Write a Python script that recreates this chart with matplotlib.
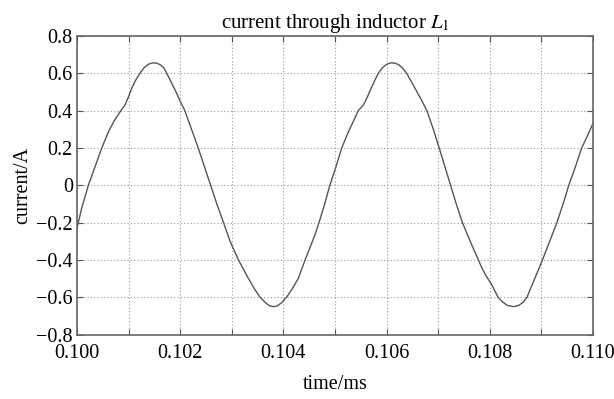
import matplotlib
matplotlib.use('Agg')
import matplotlib.pyplot as plt

plt.rcParams['font.family'] = ['Liberation Serif', 'DejaVu Serif']
plt.rcParams['mathtext.fontset'] = 'stix'

# points (time in ms, current in A)
time_ms = [0.10000, 0.10009, 0.10022, 0.10035, 0.10048, 0.10061, 0.10072, 0.10085,
           0.10093, 0.10100, 0.10106, 0.10114, 0.10122, 0.10130, 0.10138, 0.10146,
           0.10154, 0.10162, 0.10168, 0.10174, 0.10183, 0.10192, 0.10200, 0.10209,
           0.10222, 0.10235, 0.10247, 0.10259, 0.10271, 0.10284, 0.10297, 0.10313,
           0.10332, 0.10345, 0.10355, 0.10365, 0.10373, 0.10380, 0.10388, 0.10396,
           0.10406, 0.10417, 0.10429, 0.10442, 0.10452, 0.10461, 0.10469, 0.10480,
           0.10490, 0.10502, 0.10513, 0.10526, 0.10536, 0.10545, 0.10555, 0.10563,
           0.10570, 0.10577, 0.10584, 0.10592, 0.10600, 0.10608, 0.10616, 0.10624,
           0.10631, 0.10639, 0.10648, 0.10658, 0.10668, 0.10678, 0.10690, 0.10702,
           0.10713, 0.10724, 0.10735, 0.10747, 0.10762, 0.10778, 0.10785, 0.10794,
           0.10804, 0.10816, 0.10825, 0.10834, 0.10846, 0.10856, 0.10864, 0.10872,
           0.10887, 0.10902, 0.10916, 0.10930, 0.10942, 0.10953, 0.10966, 0.10978,
           0.10990, 0.11000]
current_A = [-0.230, -0.123, 0.000, 0.100, 0.200, 0.287, 0.345, 0.400,
             0.430, 0.475, 0.520, 0.565, 0.600, 0.630, 0.648, 0.656,
             0.655, 0.645, 0.630, 0.600, 0.550, 0.500, 0.450, 0.400,
             0.300, 0.200, 0.100, 0.000, -0.100, -0.200, -0.302, -0.400,
             -0.498, -0.560, -0.600, -0.628, -0.645, -0.650, -0.646, -0.630,
             -0.600, -0.555, -0.498, -0.400, -0.330, -0.266, -0.200, -0.100,
             0.000, 0.100, 0.200, 0.287, 0.345, 0.400, 0.430, 0.475,
             0.520, 0.562, 0.600, 0.630, 0.648, 0.656, 0.655, 0.645,
             0.628, 0.600, 0.555, 0.505, 0.455, 0.400, 0.305, 0.200,
             0.100, 0.000, -0.100, -0.200, -0.300, -0.400, -0.445, -0.490,
             -0.534, -0.600, -0.625, -0.643, -0.650, -0.643, -0.628, -0.600,
             -0.500, -0.400, -0.300, -0.200, -0.100, 0.000, 0.100, 0.200,
             0.270, 0.332]

x_ticks = [0.100, 0.101, 0.102, 0.103, 0.104, 0.105, 0.106, 0.107, 0.108, 0.109, 0.110]
x_labels = ['0.100', '', '0.102', '', '0.104', '', '0.106', '', '0.108', '', '0.110']
y_ticks = [-0.8, -0.6, -0.4, -0.2, 0, 0.2, 0.4, 0.6, 0.8]
y_labels = ['\u22120.8', '\u22120.6', '\u22120.4', '\u22120.2', '0', '0.2', '0.4', '0.6', '0.8']

fig = plt.figure(figsize=(6.14, 3.99), dpi=100)
ax = fig.add_axes([0.1254, 0.1612, 0.8404, 0.7486])

ax.plot(time_ms, current_A, color='#555555', linewidth=1.0)

ax.set_xlim(0.100, 0.110)
ax.set_ylim(-0.8, 0.8)
ax.set_xticks(x_ticks)
ax.set_xticklabels(x_labels)
ax.set_yticks(y_ticks)
ax.set_yticklabels(y_labels)
ax.tick_params(direction='in', length=4, width=0.8, color='#555555',
               labelsize=14.5, top=True, right=True)
ax.tick_params(axis='x', pad=7)
ax.tick_params(axis='y', pad=3)
ax.grid(True, linestyle=(0, (1, 2)), color='#999999', linewidth=0.8)
for s in ax.spines.values():
    s.set_color('#666666')
    s.set_linewidth(1.2)

ax.set_title('current through inductor $L_1$', fontsize=15, pad=6)
ax.set_xlabel('time/ms', fontsize=14.5, labelpad=8)
ax.set_ylabel('current/A', fontsize=14.5, labelpad=3)

fig.savefig('out.png', dpi=100)
